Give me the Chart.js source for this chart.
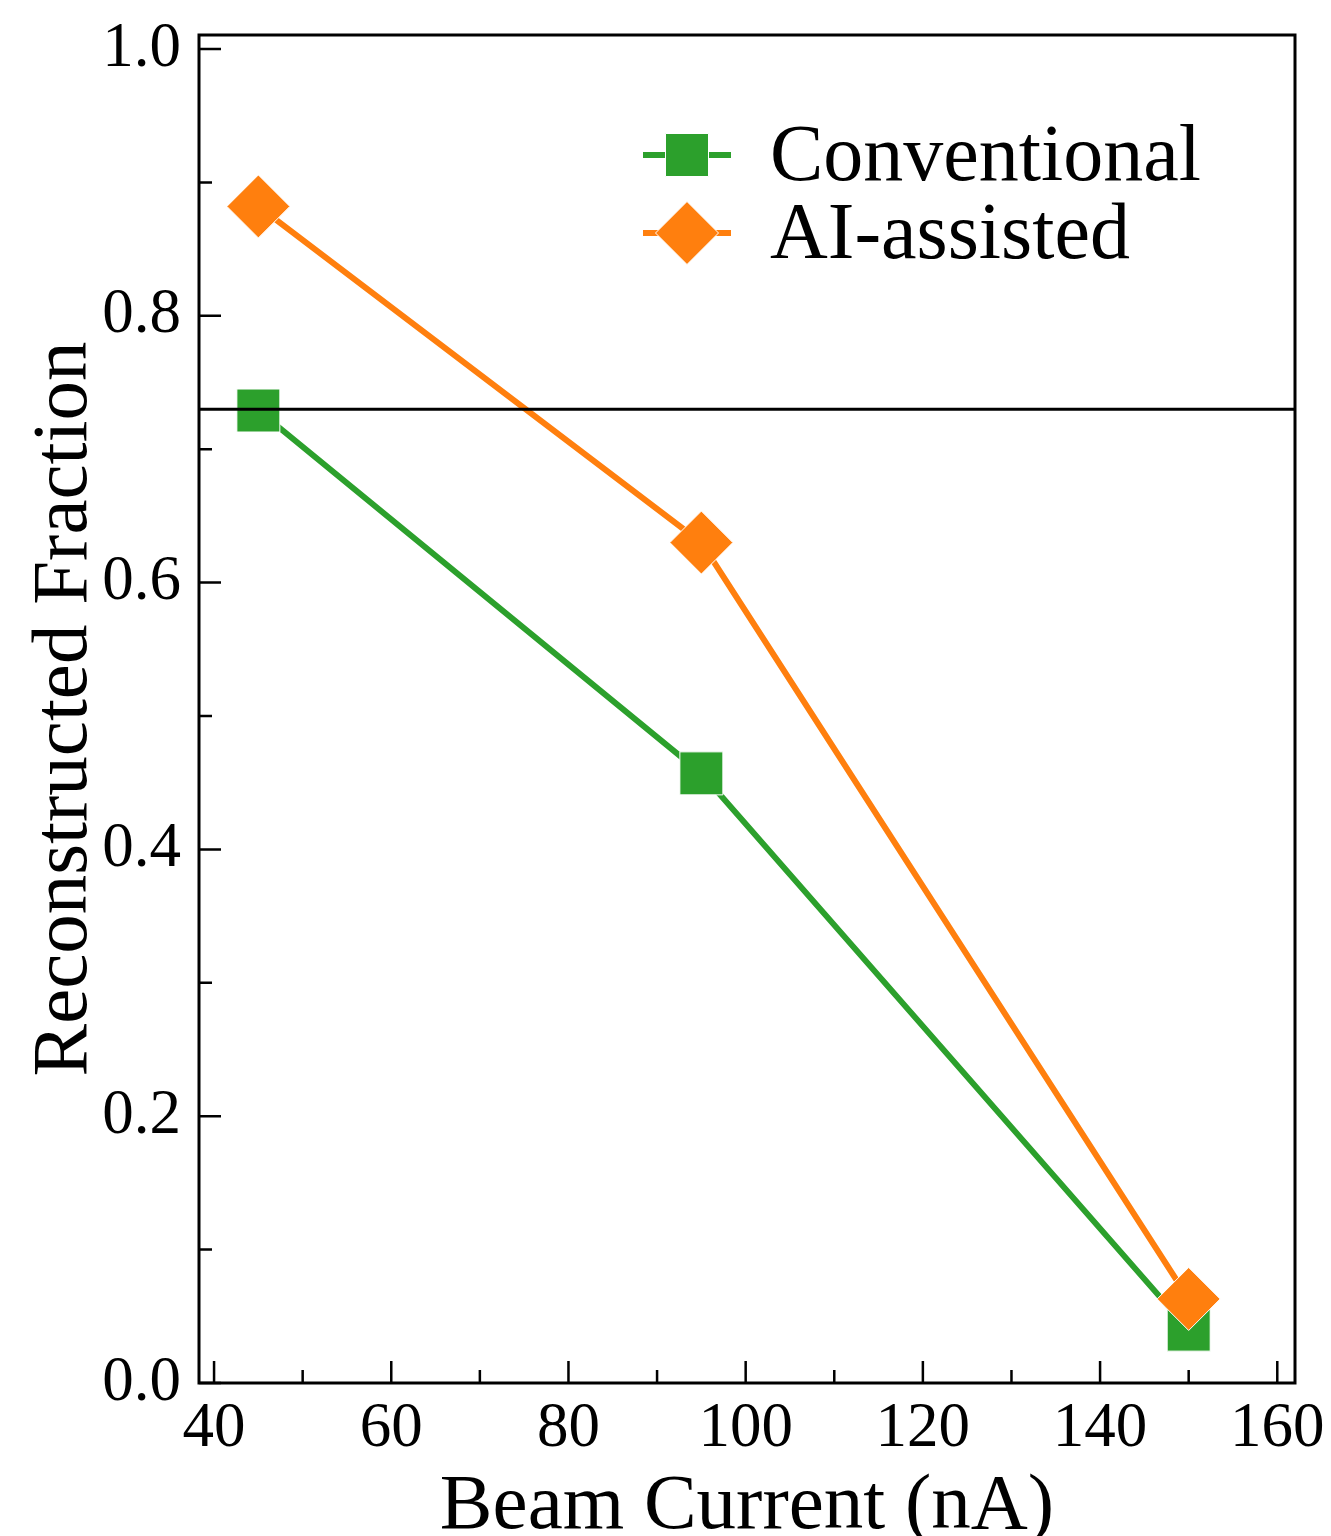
<!DOCTYPE html>
<html lang="en">
<head>
    <meta charset="UTF-8">
    <title>Reconstructed Fraction vs Beam Current</title>
    <script src="https://cdn.jsdelivr.net/npm/chart.js"></script>
    <style>
        html, body {
            margin: 0;
            padding: 0;
            background-color: #ffffff;
        }

        #wrap {
            width: 1331px;
            height: 1536px;
        }
    </style>
</head>
<body>

<div id="wrap">
    <canvas id="fractionChart" width="1331" height="1536"></canvas>
</div>

<script>
    // values
    var beamCurrent = [45, 95, 150];
    var conventional = [0.729, 0.457, 0.040];
    var aiAssisted = [0.882, 0.630, 0.063];
    var seriesNames = ['Conventional', 'AI-assisted'];
    var xTickValues = [40, 60, 80, 100, 120, 140, 160];
    var yTickValues = [0.0, 0.2, 0.4, 0.6, 0.8, 1.0];
    var referenceLevel = 0.73;

    var GREEN = '#2ca02c';
    var ORANGE = '#ff7f0e';
    var FONT = '"Liberation Serif", "DejaVu Serif", serif';

    function toPoints(xs, ys) {
        return xs.map(function (x, i) { return {x: x, y: ys[i]}; });
    }

    function tickList(values) {
        return values.map(function (v) { return {value: v}; });
    }

    // keep the plot area exactly where the layout padding puts it
    function noOverflow(scale) {
        scale.paddingTop = 0;
        scale.paddingBottom = 0;
        scale.paddingLeft = 0;
        scale.paddingRight = 0;
    }

    // inward ticks, frame, reference line and the legend box
    var decorations = {
        id: 'decorations',
        afterDatasetsDraw: function (chart) {
            var ctx = chart.ctx;
            var area = chart.chartArea;
            var py = chart.scales.y.getPixelForValue(referenceLevel);
            ctx.save();
            ctx.strokeStyle = '#000';
            ctx.lineWidth = 3;
            ctx.beginPath();
            ctx.moveTo(area.left, py);
            ctx.lineTo(area.right, py);
            ctx.stroke();
            ctx.restore();
        },
        afterDraw: function (chart) {
            var ctx = chart.ctx;
            var area = chart.chartArea;
            var xs = chart.scales.x;
            var ys = chart.scales.y;

            ctx.save();
            ctx.strokeStyle = '#000';
            ctx.lineWidth = 2.5;
            ctx.beginPath();
            xTickValues.forEach(function (v, i) {
                var px = xs.getPixelForValue(v);
                ctx.moveTo(px, area.bottom);
                ctx.lineTo(px, area.bottom - 22);
                if (i < xTickValues.length - 1) {
                    var mx = xs.getPixelForValue((v + xTickValues[i + 1]) / 2);
                    ctx.moveTo(mx, area.bottom);
                    ctx.lineTo(mx, area.bottom - 13);
                }
            });
            yTickValues.forEach(function (v, i) {
                var py = ys.getPixelForValue(v);
                ctx.moveTo(area.left, py);
                ctx.lineTo(area.left + 22, py);
                if (i < yTickValues.length - 1) {
                    var my = ys.getPixelForValue((v + yTickValues[i + 1]) / 2);
                    ctx.moveTo(area.left, my);
                    ctx.lineTo(area.left + 13, my);
                }
            });
            ctx.stroke();

            ctx.lineWidth = 3;
            ctx.strokeRect(area.left, area.top, area.right - area.left, area.bottom - area.top);

            // legend
            var rows = [
                {y: 155, color: GREEN, style: 'square'},
                {y: 233, color: ORANGE, style: 'diamond'}
            ];
            rows.forEach(function (row, i) {
                ctx.strokeStyle = row.color;
                ctx.lineWidth = 6;
                ctx.beginPath();
                ctx.moveTo(643, row.y);
                ctx.lineTo(731, row.y);
                ctx.stroke();

                ctx.fillStyle = row.color;
                ctx.strokeStyle = '#ffffff';
                ctx.lineWidth = 1;
                ctx.beginPath();
                if (row.style === 'square') {
                    ctx.rect(687 - 21.5, row.y - 21.5, 43, 43);
                } else {
                    ctx.moveTo(687 - 31.5, row.y);
                    ctx.lineTo(687, row.y - 31.5);
                    ctx.lineTo(687 + 31.5, row.y);
                    ctx.lineTo(687, row.y + 31.5);
                    ctx.closePath();
                }
                ctx.fill();
                ctx.stroke();

                ctx.fillStyle = '#000';
                ctx.font = '80px ' + FONT;
                ctx.textAlign = 'left';
                ctx.textBaseline = 'alphabetic';
                ctx.fillText(seriesNames[i], 770, row.y + 25);
            });
            ctx.restore();
        }
    };

    var ctx = document.getElementById('fractionChart').getContext('2d');
    var chart = new Chart(ctx, {
        type: 'line',
        data: {
            datasets: [{
                label: seriesNames[0],
                data: toPoints(beamCurrent, conventional),
                borderColor: GREEN,
                backgroundColor: GREEN,
                borderWidth: 6,
                pointStyle: 'rect',
                pointRadius: 30.4,
                pointBackgroundColor: GREEN,
                pointBorderColor: '#ffffff',
                pointBorderWidth: 1,
                tension: 0,
                order: 1
            }, {
                label: seriesNames[1],
                data: toPoints(beamCurrent, aiAssisted),
                borderColor: ORANGE,
                backgroundColor: ORANGE,
                borderWidth: 6,
                pointStyle: 'rectRot',
                pointRadius: 31.5,
                pointBackgroundColor: ORANGE,
                pointBorderColor: '#ffffff',
                pointBorderWidth: 1,
                tension: 0,
                order: 0
            }]
        },
        options: {
            responsive: false,
            animation: false,
            devicePixelRatio: 1,
            layout: {
                padding: {top: 35, right: 36, left: 0, bottom: 0}
            },
            plugins: {
                legend: {display: false},
                tooltip: {enabled: false}
            },
            scales: {
                x: {
                    type: 'linear',
                    min: 38.3,
                    max: 162.0,
                    grid: {display: false, drawTicks: false},
                    border: {display: false},
                    afterBuildTicks: function (scale) { scale.ticks = tickList(xTickValues); },
                    afterFit: function (scale) { scale.height = 153; noOverflow(scale); },
                    ticks: {
                        color: '#000',
                        padding: 15,
                        maxRotation: 0,
                        font: {family: FONT, size: 63, lineHeight: 1}
                    },
                    title: {
                        display: true,
                        text: 'Beam Current (nA)',
                        color: '#000',
                        padding: {top: 0, bottom: -11},
                        font: {family: FONT, size: 79, lineHeight: 1}
                    }
                },
                y: {
                    type: 'linear',
                    min: 0,
                    max: 1.0105,
                    grid: {display: false, drawTicks: false},
                    border: {display: false},
                    afterBuildTicks: function (scale) { scale.ticks = tickList(yTickValues); },
                    afterFit: function (scale) { scale.width = 199; noOverflow(scale); },
                    ticks: {
                        color: '#000',
                        padding: 18,
                        font: {family: FONT, size: 63, lineHeight: 1},
                        callback: function (v) { return Number(v).toFixed(1); }
                    },
                    title: {
                        display: true,
                        text: 'Reconstructed Fraction',
                        color: '#000',
                        padding: {top: 26, bottom: 0},
                        font: {family: FONT, size: 79, lineHeight: 1}
                    }
                }
            }
        },
        plugins: [decorations]
    });
</script>

</body>
</html>
